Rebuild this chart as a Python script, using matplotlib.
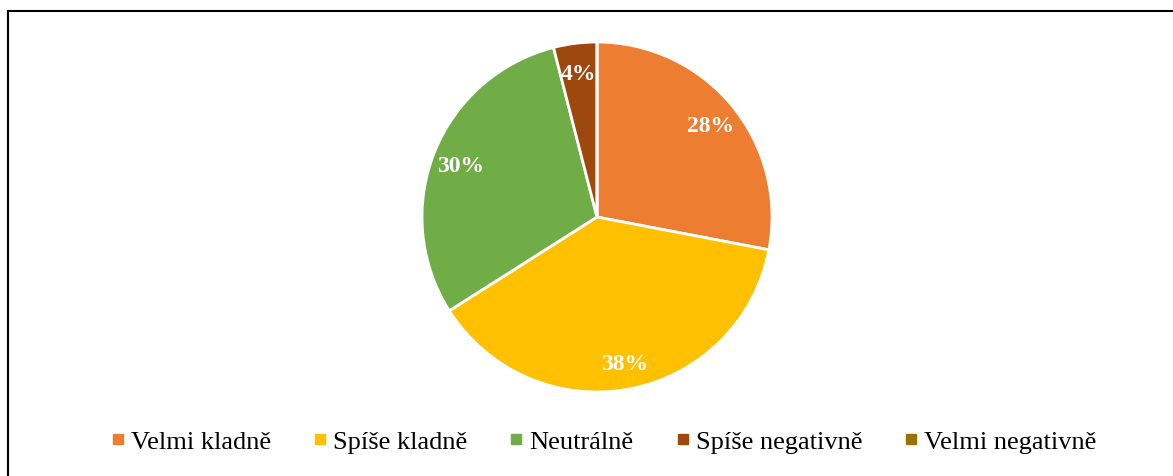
import matplotlib.pyplot as plt
from matplotlib.lines import Line2D

plt.rcParams['font.family'] = ['Liberation Serif', 'DejaVu Serif']

categories = ['Velmi kladně', 'Spíše kladně', 'Neutrálně', 'Spíše negativně', 'Velmi negativně']
shares = [28, 38, 30, 4, 0]
colors = ['#ED7D31', '#FFC000', '#70AD47', '#9E480E', '#997300']

W, H = 1173, 477
fig = plt.figure(figsize=(W / 100, H / 100), dpi=100)

# pie axes: centre ~(597, 218) px, radius ~175 px
cx, cy, r = 597, 218, 175
ax = fig.add_axes([(cx - r) / W, (H - cy - r) / H, 2 * r / W, 2 * r / H])


def fmt(p):
    return '' if p < 0.5 else '%.0f%%' % p


wedges, texts, autotexts = ax.pie(
    shares, colors=colors, startangle=90, counterclock=False,
    autopct=fmt, pctdistance=0.84,
    wedgeprops=dict(edgecolor='white', linewidth=2),
    textprops=dict(color='white', fontsize=17, fontweight='bold'))
for t in autotexts:
    t.set_va('center_baseline')
ax.set_xlim(-1, 1)
ax.set_ylim(-1, 1)
ax.set_aspect('equal')

handles = [Line2D([], [], marker='s', linestyle='none', markersize=7,
                  markerfacecolor=c, markeredgecolor=c) for c in colors]
fig.legend(handles, categories, loc='center', bbox_to_anchor=(0.515, 1 - 442 / H),
           ncol=5, frameon=False, fontsize=19, handlelength=0.5,
           handletextpad=0.25, columnspacing=1.6)

# frame of the chart area (left and top edges visible)
fig.add_artist(Line2D([8 / W, 8 / W], [0, 1 - 12 / H], color='black', lw=1.5))
fig.add_artist(Line2D([8 / W, 1], [1 - 12 / H, 1 - 12 / H], color='black', lw=1.5))

fig.savefig('out.png', dpi=100)
